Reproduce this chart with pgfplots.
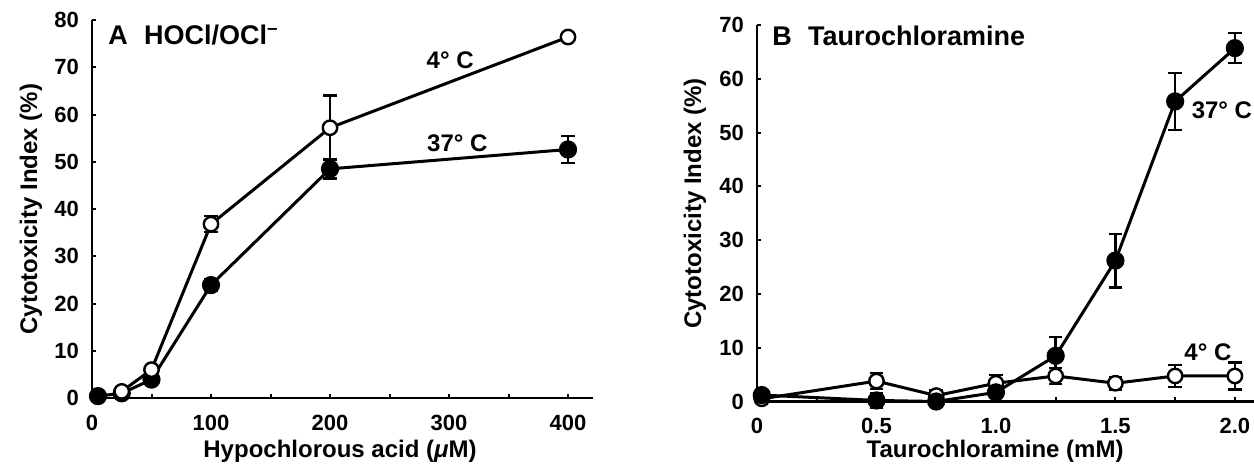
\documentclass[border=0pt]{standalone}
\usepackage{fontspec}
\setmainfont{Liberation Sans}
\usepackage{pgfplots}
\pgfplotsset{compat=1.18}

\pgfplotsset{
  panel/.style={
    scale only axis,
    axis x line=bottom, axis y line=left,
    axis line style={-, line width=1.4pt},
    tick align=inside,
    major tick length=2.2pt, minor tick length=2.2pt,
    tick style={line width=1pt, black},
    ticklabel style={font=\fontsize{11}{12}\selectfont\bfseries},
    yticklabel style={xshift=-3pt},
    xticklabel style={yshift=-5pt},
    /pgf/number format/assume math mode=true,
    label style={font=\fontsize{12}{14}\selectfont\bfseries},
    xlabel style={anchor=center},
    ylabel style={anchor=center},
    clip=false,
  },
  openc/.style={line width=1.5pt, black, mark=*, mark size=3.6pt,
    mark options={fill=white, line width=1.2pt, solid},
    error bars/.cd, y dir=both, y explicit,
    error bar style={line width=1.2pt},
    error mark options={rotate=90, mark size=3.4pt, line width=1.2pt}},
  filledc/.style={line width=1.5pt, black, mark=*, mark size=3.8pt,
    mark options={fill=black, solid},
    error bars/.cd, y dir=both, y explicit,
    error bar style={line width=1.2pt},
    error mark options={rotate=90, mark size=3.4pt, line width=1.2pt}},
}

\begin{document}
\begin{tikzpicture}
\useasboundingbox (0,0) rectangle (627pt,231.5pt);

% panel A
\begin{axis}[panel,
    at={(46pt,32.5pt)}, anchor=south west,
    width=250.5pt, height=189pt,
    xmin=0, xmax=421, ymin=0, ymax=80,
    xtick={0,100,200,300,400}, minor xtick={50,150,250,350},
    ytick={0,10,...,80},
    xlabel={Hypochlorous acid (\textit{μ}M)},
    ylabel={Cytotoxicity Index (\%)},
    xlabel style={at={(axis description cs:0.495,-0.140)}},
    ylabel style={at={(axis description cs:-0.122,0.5)}},
  ]
  \addplot+[filledc] coordinates {
    (5,0.4) +- (0,0.3)
    (25,1.0) +- (0,0.3)
    (50,3.9) +- (0,0.8)
    (100,23.9) +- (0,1.3)
    (200,48.5) +- (0,2.0)
    (400,52.6) +- (0,2.8)
  };
  \addplot+[openc] coordinates {
    (25,1.4) +- (0,0.3)
    (50,6.0) +- (0,1.0)
    (100,36.8) +- (0,1.7)
    (200,57.2) +- (0,6.8)
    (400,76.4) +- (0,0.4)
  };
  \node[font=\fontsize{13.5}{15}\selectfont\bfseries, anchor=west, inner sep=0pt]
    at (axis cs:13.5,76.8) {A\hspace{0.6em}HOCl/OCl\textsuperscript{--}};
  \node[font=\fontsize{12}{13}\selectfont\bfseries] at (axis cs:301,71.5) {4° C};
  \node[font=\fontsize{12}{13}\selectfont\bfseries] at (axis cs:307,54) {37° C};
\end{axis}

% panel B
\begin{axis}[panel,
    at={(378.5pt,30.75pt)}, anchor=south west,
    width=248.5pt, height=188.25pt,
    xmin=0, xmax=2.08, ymin=0, ymax=70,
    xtick={0,0.5,1.0,1.5,2.0},
    xticklabels={0,0.5,1.0,1.5,2.0},
    minor xtick={0.25,0.75,1.25,1.75},
    ytick={0,10,...,70},
    xlabel={Taurochloramine (mM)},
    ylabel={Cytotoxicity Index (\%)},
    xlabel style={at={(axis description cs:0.479,-0.131)}},
    ylabel style={at={(axis description cs:-0.125,0.526)}},
  ]
  \addplot+[openc] coordinates {
    (0.02,0.5) +- (0,0.3)
    (0.5,3.8) +- (0,1.5)
    (0.75,1.1) +- (0,1.0)
    (1.0,3.4) +- (0,1.5)
    (1.25,4.75) +- (0,1.5)
    (1.5,3.4) +- (0,1.2)
    (1.75,4.75) +- (0,2.0)
    (2.0,4.75) +- (0,2.5)
  };
  \addplot+[filledc] coordinates {
    (0.02,1.2) +- (0,0.3)
    (0.5,0.2) +- (0,1.3)
    (0.75,0.0) +- (0,0.8)
    (1.0,1.7) +- (0,0.8)
    (1.25,8.5) +- (0,3.5)
    (1.5,26.2) +- (0,5.0)
    (1.75,55.8) +- (0,5.3)
    (2.0,65.7) +- (0,2.8)
  };
  \node[font=\fontsize{13.5}{15}\selectfont\bfseries, anchor=west, inner sep=0pt]
    at (axis cs:0.063,67.9) {B\hspace{0.6em}Taurochloramine};
  \node[font=\fontsize{12}{13}\selectfont\bfseries, anchor=west] at (axis cs:1.79,54.2) {37° C};
  \node[font=\fontsize{12}{13}\selectfont\bfseries] at (axis cs:1.887,9.2) {4° C};
\end{axis}
\end{tikzpicture}
\end{document}
